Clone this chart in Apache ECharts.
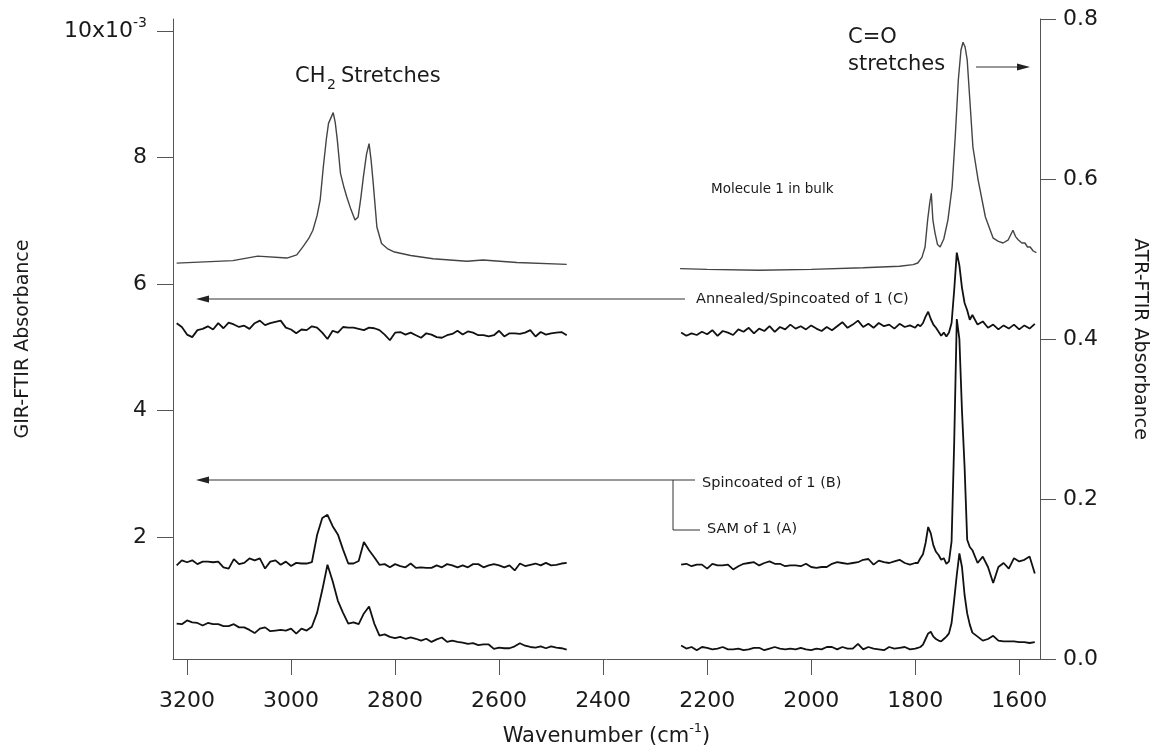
<!DOCTYPE html>
<html><head><meta charset="utf-8">
<script src="https://cdn.jsdelivr.net/npm/echarts@6/dist/echarts.min.js"></script>
<style>html,body{margin:0;padding:0;background:#fff}#c{width:1153px;height:746px}</style>
</head><body><div id="c"></div>
<script>
// ---------- DATA ----------
const xTicks = [3200, 3000, 2800, 2600, 2400, 2200, 2000, 1800, 1600];
const leftTicks = [2, 4, 6, 8, 10];

// CH2 region wavenumbers (cm-1)
const leftWavenumbers = [3220,3210,3200,3190,3180,3170,3160,3150,3140,3130,
3120,3110,3100,3090,3080,3070,3060,3050,3040,3030,
3020,3010,3000,2990,2980,2970,2960,2950,2940,2930,
2920,2910,2900,2890,2880,2870,2860,2850,2840,2830,
2820,2810,2800,2790,2780,2770,2760,2750,2740,2730,
2720,2710,2700,2690,2680,2670,2660,2650,2640,2630,
2620,2610,2600,2590,2580,2570,2560,2550,2540,2530,
2520,2510,2500,2490,2480,2470];

// GIR-FTIR absorbance (x10^-3)
const annealedLeft = [5.38,5.32,5.20,5.16,5.27,5.29,5.33,5.28,5.38,5.30,
5.39,5.36,5.32,5.34,5.29,5.38,5.42,5.35,5.38,5.40,
5.42,5.31,5.28,5.22,5.28,5.27,5.33,5.31,5.23,5.13,
5.26,5.23,5.32,5.31,5.31,5.29,5.27,5.31,5.30,5.27,
5.20,5.11,5.23,5.24,5.20,5.23,5.19,5.15,5.22,5.20,
5.16,5.15,5.19,5.21,5.26,5.20,5.25,5.23,5.19,5.19,
5.17,5.19,5.26,5.17,5.22,5.22,5.21,5.23,5.27,5.17,
5.24,5.20,5.22,5.23,5.24,5.19];
const spincoatedLeft = [1.55,1.63,1.60,1.63,1.57,1.61,1.61,1.60,1.61,1.52,
1.50,1.65,1.57,1.59,1.66,1.63,1.66,1.50,1.61,1.63,
1.56,1.61,1.54,1.59,1.58,1.58,1.60,2.03,2.30,2.35,
2.17,2.04,1.80,1.58,1.58,1.62,1.92,1.79,1.68,1.56,
1.57,1.52,1.57,1.54,1.52,1.58,1.51,1.52,1.51,1.51,
1.55,1.52,1.57,1.55,1.52,1.55,1.52,1.57,1.57,1.52,
1.55,1.57,1.55,1.52,1.55,1.47,1.58,1.54,1.56,1.58,
1.55,1.59,1.55,1.56,1.58,1.59];
const samLeft = [0.63,0.62,0.68,0.65,0.64,0.60,0.64,0.62,0.62,0.59,
0.59,0.62,0.57,0.57,0.53,0.48,0.55,0.57,0.51,0.52,
0.53,0.52,0.55,0.47,0.55,0.52,0.58,0.80,1.16,1.56,
1.30,0.99,0.80,0.63,0.65,0.62,0.79,0.90,0.63,0.44,
0.46,0.42,0.40,0.42,0.39,0.41,0.39,0.36,0.39,0.34,
0.38,0.41,0.34,0.36,0.34,0.33,0.31,0.32,0.29,0.30,
0.30,0.23,0.25,0.24,0.24,0.27,0.32,0.28,0.26,0.25,
0.27,0.24,0.27,0.25,0.24,0.22];
const bulkLeftWavenumbers = [3220,3112,3064,3008,2989,2977,2966,2958,2950,2944,2938,2932,2928,2919,2915,2911,2905,2899,2893,2885,2877,2871,2866,2861,2855,2850,2846,2842,2835,2826,2815,2803,2770,2727,2662,2631,2566,2470];
const bulkLeft = [6.33,6.37,6.44,6.41,6.46,6.59,6.72,6.85,7.08,7.33,7.85,8.30,8.54,8.71,8.55,8.27,7.75,7.55,7.38,7.18,7.01,7.06,7.35,7.69,8.05,8.22,7.95,7.59,6.90,6.64,6.56,6.51,6.45,6.40,6.36,6.38,6.34,6.31];

// C=O region wavenumbers (cm-1)
const rightWavenumbers = [2250,2240,2230,2220,2210,2200,2190,2180,2170,2160,
2150,2140,2130,2120,2110,2100,2090,2080,2070,2060,
2050,2040,2030,2020,2010,2000,1990,1980,1970,1960,
1950,1940,1930,1920,1910,1900,1890,1880,1870,1860,
1850,1840,1830,1820,1810,1800,
1795,1790,1785,1780,1775,1770,1765,1760,1755,1750,1745,1740,1735,1730,1725,1720,1715,1710,1705,1700,1695,1690,
1680,1670,1660,1650,1640,1630,1620,1610,1600,1590,1580,1570];

// ATR-FTIR absorbance
const annealedRight = [0.408,0.404,0.407,0.405,0.409,0.406,0.411,0.404,0.410,0.408,
0.405,0.412,0.409,0.414,0.407,0.413,0.410,0.416,0.409,0.415,
0.412,0.418,0.413,0.416,0.412,0.417,0.413,0.410,0.415,0.411,
0.416,0.421,0.414,0.418,0.423,0.415,0.419,0.414,0.420,0.416,
0.418,0.413,0.419,0.415,0.417,0.414,
0.418,0.416,0.420,0.428,0.434,0.425,0.418,0.414,0.409,0.404,0.408,0.403,0.408,0.420,0.461,0.508,0.492,0.464,0.445,0.436,0.424,0.430,
0.418,0.422,0.414,0.418,0.412,0.417,0.413,0.418,0.412,0.417,0.413,0.419];
const spincoatedRight = [0.118,0.119,0.116,0.118,0.118,0.113,0.119,0.117,0.117,0.118,
0.112,0.116,0.119,0.120,0.121,0.117,0.120,0.122,0.119,0.119,
0.116,0.117,0.117,0.116,0.119,0.115,0.114,0.115,0.115,0.119,
0.121,0.120,0.119,0.120,0.121,0.124,0.125,0.118,0.123,0.121,
0.120,0.122,0.124,0.120,0.118,0.120,
0.120,0.126,0.131,0.145,0.165,0.157,0.142,0.134,0.130,0.124,0.126,0.119,0.122,0.147,0.270,0.425,0.400,0.310,0.240,0.149,0.140,0.136,
0.120,0.128,0.115,0.095,0.115,0.120,0.113,0.126,0.122,0.124,0.128,0.107];
const samRight = [0.017,0.013,0.015,0.011,0.015,0.014,0.012,0.013,0.015,0.012,
0.012,0.013,0.011,0.012,0.014,0.014,0.011,0.013,0.015,0.013,
0.012,0.013,0.012,0.014,0.012,0.011,0.013,0.012,0.015,0.015,
0.012,0.015,0.013,0.013,0.019,0.012,0.015,0.013,0.012,0.011,
0.015,0.013,0.014,0.015,0.012,0.013,
0.014,0.015,0.018,0.025,0.032,0.034,0.028,0.025,0.023,0.022,0.025,0.028,0.032,0.045,0.074,0.105,0.132,0.115,0.080,0.057,0.043,0.033,
0.028,0.023,0.025,0.029,0.023,0.022,0.022,0.022,0.021,0.021,0.020,0.021];
const bulkRightWavenumbers = [2252,2200,2100,2000,1900,1830,1804,1795,1787,1781,1776,1772,1769,1766,1762,1757,1752,1745,1737,1729,1723,1717,1712,1708,1704,1700,1694,1689,1679,1665,1650,1640,1631,1621,1612,1607,1602,1595,1589,1584,1579,1573,1567];
const bulkRight = [0.488,0.487,0.486,0.487,0.489,0.491,0.493,0.495,0.502,0.515,0.549,0.570,0.582,0.549,0.533,0.518,0.515,0.525,0.549,0.590,0.6525,0.724,0.761,0.771,0.765,0.749,0.690,0.640,0.599,0.5525,0.526,0.522,0.520,0.524,0.536,0.528,0.524,0.520,0.520,0.515,0.515,0.510,0.508];

// ---------- CHART ----------
const FONT = 'DejaVu Sans';
const AX = '#555';
const TXT = '#1a1a1a';
function pairs(xs, ys) { return xs.map((x, i) => [x, ys[i]]); }
function line(name, xs, ys, yIdx, color, width) {
  return { name, type: 'line', xAxisIndex: 0, yAxisIndex: yIdx, data: pairs(xs, ys),
    showSymbol: false, symbol: 'none', smooth: false, silent: true,
    lineStyle: { color, width }, z: 3 };
}
function txt(x, y, text, size, extra) {
  return Object.assign({ type: 'text', x, y, silent: true, z: 10,
    style: { text, fontSize: size, fontFamily: FONT, fill: TXT,
      align: 'left', verticalAlign: 'middle', textAlign: 'left', textVerticalAlign: 'middle' } }, extra || {});
}
function seg(x1, y1, x2, y2) {
  return { type: 'line', silent: true, z: 10, shape: { x1, y1, x2, y2 }, style: { stroke: '#333', lineWidth: 1 } };
}
function head(pts) {
  return { type: 'polygon', silent: true, z: 10, shape: { points: pts }, style: { fill: '#222' } };
}

const chart = echarts.init(document.getElementById('c'));
chart.setOption({
  animation: false,
  backgroundColor: '#fff',
  grid: { left: 173, right: 113, top: 19, bottom: 87, containLabel: false, outerBoundsMode: 'none' },
  xAxis: {
    type: 'value', inverse: true, min: 1560, max: 3227, position: 'bottom',
    axisLine: { show: true, onZero: false, lineStyle: { color: AX, width: 1 } },
    axisTick: { show: true, inside: false, length: 16, customValues: xTicks, lineStyle: { color: AX } },
    axisLabel: { customValues: xTicks, margin: 31, fontSize: 22, fontFamily: FONT, color: TXT, formatter: v => String(v) },
    splitLine: { show: false },
    name: 'Wavenumber (cm{sup|-1})', nameLocation: 'middle', nameGap: 63,
    nameTextStyle: { fontSize: 21, fontFamily: FONT, color: TXT, lineHeight: 30,
      rich: { sup: { fontSize: 13, fontFamily: FONT, color: TXT, verticalAlign: 'top' } } }
  },
  yAxis: [{
    type: 'value', position: 'left', min: 0.07, max: 10.19,
    axisLine: { show: true, onZero: false, lineStyle: { color: AX, width: 1 } },
    axisTick: { show: true, inside: false, length: 16, customValues: leftTicks, lineStyle: { color: AX } },
    axisLabel: { customValues: leftTicks, margin: 26, fontSize: 22, fontFamily: FONT, color: TXT, lineHeight: 30,
      formatter: v => (v === 10 ? '10x10{sup|-3}' : String(v)),
      rich: { sup: { fontSize: 14, fontFamily: FONT, color: TXT, verticalAlign: 'top' } } },
    splitLine: { show: false },
    name: 'GIR-FTIR Absorbance', nameLocation: 'middle', nameRotate: 90, nameGap: 140,
    nameTextStyle: { fontSize: 19, fontFamily: FONT, color: TXT }
  }, {
    type: 'value', position: 'right', min: 0, max: 0.8, interval: 0.2,
    axisLine: { show: true, onZero: false, lineStyle: { color: AX, width: 1 } },
    axisTick: { show: true, inside: false, length: 16, lineStyle: { color: AX } },
    axisLabel: { margin: 23, fontSize: 22, fontFamily: FONT, color: TXT, formatter: v => v.toFixed(1) },
    splitLine: { show: false },
    name: 'ATR-FTIR Absorbance', nameLocation: 'middle', nameRotate: -90, nameGap: 90,
    nameTextStyle: { fontSize: 19, fontFamily: FONT, color: TXT }
  }],
  series: [
    line('Molecule 1 in bulk (CH2)', bulkLeftWavenumbers, bulkLeft, 0, '#444', 1.4),
    line('Molecule 1 in bulk (C=O)', bulkRightWavenumbers, bulkRight, 1, '#444', 1.4),
    line('Annealed/Spincoated (C) CH2', leftWavenumbers, annealedLeft, 0, '#111', 1.8),
    line('Annealed/Spincoated (C) C=O', rightWavenumbers, annealedRight, 1, '#111', 1.8),
    line('Spincoated (B) CH2', leftWavenumbers, spincoatedLeft, 0, '#111', 1.8),
    line('Spincoated (B) C=O', rightWavenumbers, spincoatedRight, 1, '#111', 1.8),
    line('SAM (A) CH2', leftWavenumbers, samLeft, 0, '#111', 1.8),
    line('SAM (A) C=O', rightWavenumbers, samRight, 1, '#111', 1.8)
  ],
  graphic: [
    txt(295, 77, 'CH', 21),
    txt(327, 85, '2', 14),
    txt(341, 77, 'Stretches', 21),
    txt(848, 38, 'C=O', 21),
    txt(848, 65, 'stretches', 21),
    seg(976, 67, 1020, 67), head([[1030, 67], [1017, 63.5], [1017, 70.5]]),
    txt(711, 189, 'Molecule 1 in bulk', 13.5),
    seg(208, 299, 685, 299), head([[196, 299], [209, 295.5], [209, 302.5]]),
    txt(696, 299, 'Annealed/Spincoated of 1 (C)', 14.5),
    seg(208, 480, 695, 480), head([[196, 480], [209, 476.5], [209, 483.5]]),
    { type: 'polyline', silent: true, z: 10, shape: { points: [[673, 480], [673, 530], [700, 530]] }, style: { stroke: '#333', lineWidth: 1, fill: null } },
    txt(702, 483, 'Spincoated of 1 (B)', 14.5),
    txt(707, 529, 'SAM of 1 (A)', 14.5)
  ]
});
</script>
</body></html>
